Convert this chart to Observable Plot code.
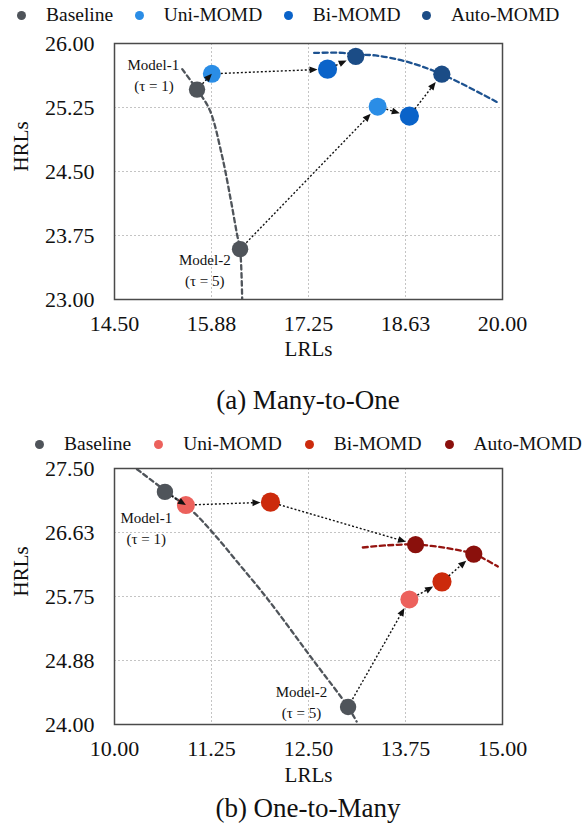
<!DOCTYPE html>
<html><head><meta charset="utf-8">
<script src="https://cdn.jsdelivr.net/npm/d3@7"></script>
<script src="https://cdn.jsdelivr.net/npm/@observablehq/plot@0.6"></script>
<style>
body{margin:0;background:#fff;font-family:"Liberation Serif","Times New Roman",serif;color:#111;}
#root{position:relative;width:584px;height:826px;overflow:hidden;}
.legend{position:absolute;display:flex;align-items:center;font-size:19.5px;line-height:24px;white-space:nowrap;}
.legend .sw{width:9px;height:9px;border-radius:50%;}
.caption{position:absolute;left:108px;width:400px;text-align:center;font-size:27px;line-height:30px;}
.chart{position:absolute;left:0;}
</style></head><body><div id="root"></div>
<script>
// ---------- shared categories ----------
const methods = ["Baseline", "Uni-MOMD", "Bi-MOMD", "Auto-MOMD"];
const models = ["Model-1", "Model-2"];

// ---------- (a) Many-to-One ----------
// rows: Model-1, Model-2 ; columns: Baseline, Uni, Bi, Auto
const m2oLRL = [[15.67, 15.88, 17.52, 17.92], [16.28, 18.23, 18.68, 19.14]];
const m2oHRL = [[25.46, 25.645, 25.70, 25.85], [23.59, 25.26, 25.15, 25.64]];
const m2oBaseCurveX = [15.46, 15.67, 15.85, 16.02, 16.15, 16.24, 16.28, 16.31];
const m2oBaseCurveY = [25.70, 25.46, 25.22, 24.70, 24.16, 23.75, 23.59, 23.00];
const m2oFrontX = [17.33, 17.74, 17.92, 18.20, 18.63, 19.14, 19.93];
const m2oFrontY = [25.89, 25.89, 25.87, 25.86, 25.79, 25.64, 25.31];
const m2oXTicks = [14.5, 15.875, 17.25, 18.625, 20];
const m2oXLabels = ["14.50", "15.88", "17.25", "18.63", "20.00"];
const m2oYTicks = [23, 23.75, 24.5, 25.25, 26];
const m2oYLabels = ["23.00", "23.75", "24.50", "25.25", "26.00"];
const m2oNotes = ["Model-1", "(τ = 1)", "Model-2", "(τ = 5)"];
const m2oNoteX = [15.05, 15.06, 15.78, 15.78];
const m2oNoteY = [25.74, 25.50, 23.46, 23.21];
const m2oColors = ["#4f545a", "#2a8de6", "#0a63c9", "#1b4c86"];

// ---------- (b) One-to-Many ----------
const o2mLRL = [[10.65, 10.92, 12.01, 13.88], [13.01, 13.80, 14.22, 14.63]];
const o2mHRL = [[27.18, 27.00, 27.04, 26.46], [24.24, 25.71, 25.95, 26.33]];
const o2mBaseCurveX = [10.29, 10.70, 11.00, 11.26, 11.60, 11.97, 12.56, 13.01, 13.12];
const o2mBaseCurveY = [27.49, 27.16, 26.92, 26.63, 26.20, 25.72, 24.88, 24.24, 24.04];
const o2mFrontX = [13.20, 13.52, 13.88, 14.29, 14.63, 14.94];
const o2mFrontY = [26.42, 26.45, 26.46, 26.41, 26.33, 26.16];
const o2mXTicks = [10, 11.25, 12.5, 13.75, 15];
const o2mXLabels = ["10.00", "11.25", "12.50", "13.75", "15.00"];
const o2mYTicks = [24, 24.875, 25.75, 26.625, 27.5];
const o2mYLabels = ["24.00", "24.88", "25.75", "26.63", "27.50"];
const o2mNotes = ["Model-1", "(τ = 1)", "Model-2", "(τ = 5)"];
const o2mNoteX = [10.41, 10.41, 12.41, 12.41];
const o2mNoteY = [26.82, 26.53, 24.44, 24.15];
const o2mColors = ["#4f545a", "#ec615c", "#cc2a0c", "#8a100c"];

const dotRadius = {"Baseline": 8.2, "Uni-MOMD": 9, "Bi-MOMD": 9.6, "Auto-MOMD": 8.6};

function headMarker(tipInset) {
  return function (color, context) {
    const ns = "http://www.w3.org/2000/svg";
    const doc = (context && context.document) || document;
    const m = doc.createElementNS(ns, "marker");
    m.setAttribute("viewBox", "-40 -10 50 20");
    m.setAttribute("markerWidth", 50);
    m.setAttribute("markerHeight", 20);
    m.setAttribute("markerUnits", "userSpaceOnUse");
    m.setAttribute("refX", 0);
    m.setAttribute("refY", 0);
    m.setAttribute("orient", "auto");
    m.setAttribute("overflow", "visible");
    const p = doc.createElementNS(ns, "path");
    p.setAttribute("d", `M${-tipInset},0L${-tipInset - 8},-3.4L${-tipInset - 8},3.4Z`);
    p.setAttribute("fill", "#111");
    p.setAttribute("fill-opacity", 1);
    p.setAttribute("stroke", "none");
    p.setAttribute("stroke-dasharray", "none");
    m.appendChild(p);
    return m;
  };
}

function makeChart(cfg) {
  const pts = [];
  models.forEach((m, i) => methods.forEach((k, j) =>
    pts.push({model: m, method: k, x: cfg.lrl[i][j], y: cfg.hrl[i][j], r: dotRadius[k]})));
  const arrows = [];
  models.forEach((m, i) => {
    for (let j = 0; j < 3; j++) arrows.push({
      x1: cfg.lrl[i][j], y1: cfg.hrl[i][j], x2: cfg.lrl[i][j + 1], y2: cfg.hrl[i][j + 1],
      short: i === 0 && j === 0
    });
  });
  const longA = arrows.filter(d => !d.short), shortA = arrows.filter(d => d.short);
  const base = cfg.baseX.map((x, i) => ({x, y: cfg.baseY[i]}));
  const front = cfg.frontX.map((x, i) => ({x, y: cfg.frontY[i]}));
  const notes = cfg.notes.map((t, i) => ({t, x: cfg.noteX[i], y: cfg.noteY[i]}));
  const fmt = (ticks, labels) => d => labels[ticks.indexOf(d)];
  const link = {x1: "x1", y1: "y1", x2: "x2", y2: "y2"};
  return Plot.plot({
    width: 584, height: cfg.height,
    marginLeft: 114, marginRight: 82, marginTop: 15, marginBottom: cfg.height - 15 - 256,
    style: {fontFamily: "Liberation Serif, Times New Roman, serif", fontSize: "22px", color: "#111", background: "transparent"},
    x: {domain: [cfg.xTicks[0], cfg.xTicks[4]], ticks: cfg.xTicks, tickFormat: fmt(cfg.xTicks, cfg.xLabels), tickSize: 0, tickPadding: 16, label: null},
    y: {domain: [cfg.yTicks[0], cfg.yTicks[4]], ticks: cfg.yTicks, tickFormat: fmt(cfg.yTicks, cfg.yLabels), tickSize: 0, tickPadding: 20, label: null},
    color: {domain: methods, range: cfg.colors},
    r: {type: "identity"},
    marks: [
      Plot.gridX(cfg.xTicks.slice(1, -1), {stroke: "#c4c4c4", strokeOpacity: 1, strokeWidth: 1, strokeDasharray: "2,2"}),
      Plot.gridY(cfg.yTicks.slice(1, -1), {stroke: "#c4c4c4", strokeOpacity: 1, strokeWidth: 1, strokeDasharray: "2,2"}),
      Plot.line(base, {x: "x", y: "y", curve: "catmull-rom", stroke: cfg.colors[0], strokeWidth: 2.3, strokeDasharray: "4.5,3.5", clip: true}),
      Plot.line(front, {x: "x", y: "y", curve: "catmull-rom", stroke: cfg.frontColor, strokeWidth: 2.3, strokeDasharray: "5,3.5", clip: true}),
      Plot.dot(pts, {x: "x", y: "y", fill: "method", r: "r", stroke: "none"}),
      Plot.arrow(longA, {...link, headLength: 0, insetStart: 9, insetEnd: 14, stroke: "#111", strokeWidth: 1.4, strokeDasharray: "2,2", strokeLinecap: "butt"}),
      Plot.arrow(shortA, {...link, headLength: 0, insetStart: 8, insetEnd: 5, stroke: "#111", strokeWidth: 1.4, strokeDasharray: "2,2", strokeLinecap: "butt"}),
      Plot.link(longA, {...link, stroke: "#111", strokeOpacity: 0, markerEnd: headMarker(10)}),
      Plot.link(shortA, {...link, stroke: "#111", strokeOpacity: 0, markerEnd: headMarker(0)}),
      Plot.text(notes, {x: "x", y: "y", text: "t", fontSize: 15, fill: "#111"}),
      Plot.text(["HRLs"], {frameAnchor: "left", dx: -93, rotate: -90, fontSize: 21, fill: "#111"}),
      Plot.text(["LRLs"], {frameAnchor: "bottom", dy: cfg.xLabelDy, fontSize: 21, fill: "#111"}),
      Plot.frame({stroke: "#4a4a4a", strokeWidth: 1.5})
    ]
  });
}

function makeLegend(colors, top, left, gapAfterDot, gapAfterLabel) {
  const div = document.createElement("div");
  div.className = "legend";
  div.style.top = top + "px";
  div.style.left = left + "px";
  methods.forEach((m, i) => {
    const sw = document.createElement("span");
    sw.className = "sw";
    sw.style.background = colors[i];
    sw.style.marginRight = gapAfterDot + "px";
    const lb = document.createElement("span");
    lb.textContent = m;
    if (i < methods.length - 1) lb.style.marginRight = gapAfterLabel + "px";
    div.appendChild(sw); div.appendChild(lb);
  });
  return div;
}

function addCaption(text, top) {
  const c = document.createElement("div");
  c.className = "caption";
  c.style.top = top + "px";
  c.textContent = text;
  root.appendChild(c);
}

const root = document.getElementById("root");
root.appendChild(makeLegend(m2oColors, 3, 17, 20, 21.5));
const c1 = makeChart({lrl: m2oLRL, hrl: m2oHRL, baseX: m2oBaseCurveX, baseY: m2oBaseCurveY, frontX: m2oFrontX, frontY: m2oFrontY,
  xTicks: m2oXTicks, xLabels: m2oXLabels, yTicks: m2oYTicks, yLabels: m2oYLabels, notes: m2oNotes, noteX: m2oNoteX, noteY: m2oNoteY,
  colors: m2oColors, frontColor: "#1d5290", height: 343, xLabelDy: 56});
c1.classList.add("chart"); c1.style.top = "28px";
root.appendChild(c1);
addCaption("(a) Many-to-One", 385);

root.appendChild(makeLegend(o2mColors, 432, 35, 20, 23));
const c2 = makeChart({lrl: o2mLRL, hrl: o2mHRL, baseX: o2mBaseCurveX, baseY: o2mBaseCurveY, frontX: o2mFrontX, frontY: o2mFrontY,
  xTicks: o2mXTicks, xLabels: o2mXLabels, yTicks: o2mYTicks, yLabels: o2mYLabels, notes: o2mNotes, noteX: o2mNoteX, noteY: o2mNoteY,
  colors: o2mColors, frontColor: "#951410", height: 339, xLabelDy: 57});
c2.classList.add("chart"); c2.style.top = "453px";
root.appendChild(c2);
addCaption("(b) One-to-Many", 793);
</script>
</body></html>
